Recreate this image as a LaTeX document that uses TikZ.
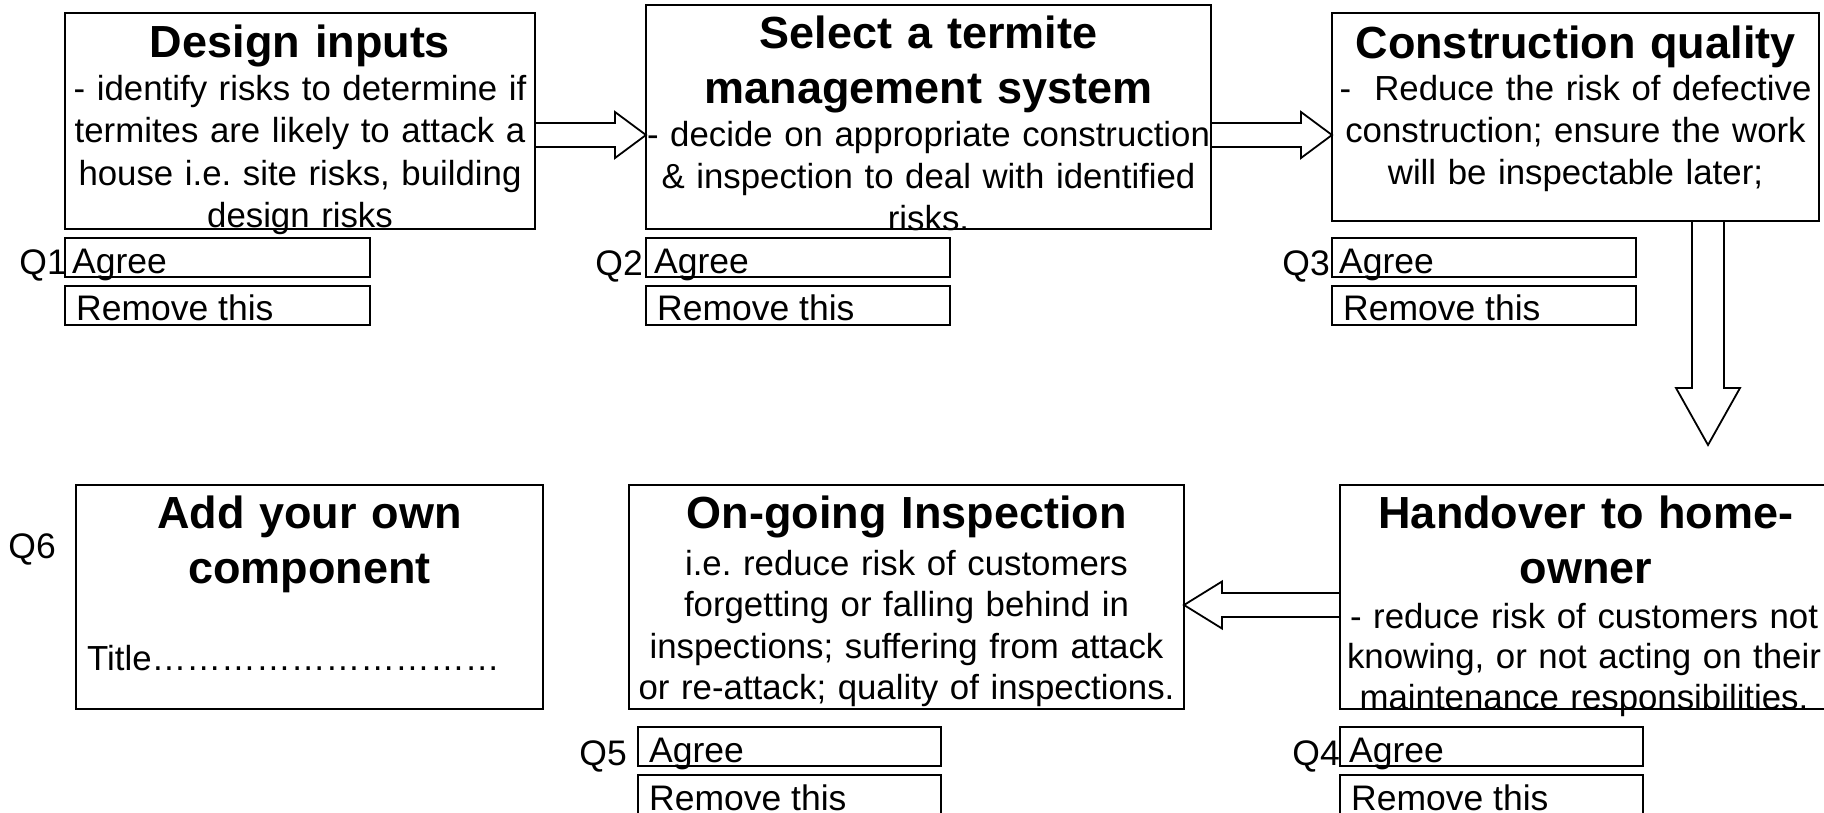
\documentclass[tikz,border=0pt]{standalone}
\usepackage{fontspec}
\setmainfont{Liberation Sans}
\usetikzlibrary{calc}
\begin{document}
\frenchspacing
\begin{tikzpicture}[x=1pt,y=-1pt,
  box/.style={draw=black, line width=2pt, inner sep=0pt, outer sep=0pt, rectangle},
  ttl/.style={font=\bfseries\fontsize{45}{55}\selectfont, text width=900pt, align=center, inner sep=0pt, anchor=base},
  bdy/.style={font=\fontsize{34.8}{42}\selectfont, text width=900pt, align=center, inner sep=0pt, anchor=base},
  lbl/.style={font=\fontsize{35.5}{41.5}\selectfont, inner sep=0pt, anchor=base west},
  qlbl/.style={font=\fontsize{35.5}{41.5}\selectfont, inner sep=0pt, anchor=base east},
  barrow/.style={draw=black, line width=1.8pt, line join=miter}]
\useasboundingbox (0,0) rectangle (1824,812);
\clip (0,0) rectangle (1824,812);

% main boxes
\node[box, minimum width=470pt, minimum height=216pt] (b1) at (300,121) {};
\node[box, minimum width=565pt, minimum height=224pt] (b2) at (928.5,117) {};
\node[box, minimum width=487pt, minimum height=208pt] (b3) at (1575.5,117) {};
\node[box, minimum width=467pt, minimum height=224pt] (b6) at (309.5,597) {};
\node[box, minimum width=555pt, minimum height=224pt] (b5) at (906.5,597) {};
\node[box, minimum width=492pt, minimum height=224pt] (b4) at (1586,597) {};

% answer boxes
\node[box, minimum width=305pt, minimum height=39pt] (q1a) at (217.5,257.5) {};
\node[box, minimum width=305pt, minimum height=39pt] (q1r) at (217.5,305.5) {};
\node[box, minimum width=304pt, minimum height=39pt] (q2a) at (798,257.5) {};
\node[box, minimum width=304pt, minimum height=39pt] (q2r) at (798,305.5) {};
\node[box, minimum width=304pt, minimum height=39pt] (q3a) at (1484,257.5) {};
\node[box, minimum width=304pt, minimum height=39pt] (q3r) at (1484,305.5) {};
\node[box, minimum width=303pt, minimum height=39pt] (q5a) at (789.5,746.5) {};
\node[box, minimum width=303pt, minimum height=39pt] (q5r) at (789.5,794.5) {};
\node[box, minimum width=303pt, minimum height=39pt] (q4a) at (1491.5,746.5) {};
\node[box, minimum width=303pt, minimum height=39pt] (q4r) at (1491.5,794.5) {};

% titles
\node[ttl] (t1) at (300,57) {Design inputs};
\node[ttl] (t2) at (928.5,48) {Select a termite\\management system};
\node[ttl] (t3) at (1575.5,58) {Construction quality};
\node[ttl] (t6) at (309.5,528.5) {Add your own\\component};
\node[ttl] (t5) at (906.5,528) {On-going Inspection};
\node[ttl] (t4) at (1586,528.5) {Handover to home-\\owner};

% bodies
\node[bdy, font=\fontsize{34.8}{42.5}\selectfont] (d1) at (300,100) {- identify risks to determine if\\termites are likely to attack a\\house i.e. site risks, building\\design risks};
\node[bdy] (d2) at (928.5,146) {- decide on appropriate construction\\\& inspection to deal with identified\\risks.};
\node[bdy] (d3) at (1575.5,100) {- \ Reduce the risk of defective\\construction; ensure the work\\will be inspectable later;};
\node[bdy, font=\fontsize{34.8}{41.5}\selectfont] (d5) at (906.5,575) {i.e. reduce risk of customers\\forgetting or falling behind in\\inspections; suffering from attack\\or re-attack; quality of inspections.};
\node[bdy, font=\fontsize{34.8}{40.5}\selectfont] (d4) at (1584,628) {- reduce risk of customers not\\knowing, or not acting on their\\maintenance responsibilities.};
\node[lbl, font=\fontsize{34.8}{42}\selectfont] (d6) at (87,670) {Title\foreach \k in {1,...,10}{…}};

% answer texts
\node[lbl] (q1at) at (72,273) {Agree};
\node[lbl] (q1rt) at (76,320.5) {Remove this};
\node[lbl] (q2at) at (654,273) {Agree};
\node[lbl] (q2rt) at (657,320.5) {Remove this};
\node[lbl] (q3at) at (1339,273) {Agree};
\node[lbl] (q3rt) at (1343,320.5) {Remove this};
\node[lbl] (q5at) at (649,762) {Agree};
\node[lbl] (q5rt) at (649,810) {Remove this};
\node[lbl] (q4at) at (1349,762) {Agree};
\node[lbl] (q4rt) at (1351,810) {Remove this};

% question labels
\node[qlbl] (l1) at (67,274) {Q1};
\node[qlbl] (l2) at (643,275) {Q2};
\node[qlbl] (l3) at (1330,275) {Q3};
\node[qlbl] (l6) at (56,558) {Q6};
\node[qlbl] (l5) at (627,765) {Q5};
\node[qlbl] (l4) at (1340,765) {Q4};

% block arrows
\coordinate (ya) at (0,135);
\coordinate (yl) at (0,605);
\coordinate (xd) at (1708,0);
\coordinate (tip1) at (b2.west |- ya);
\coordinate (tip2) at (b3.west |- ya);
\coordinate (tipd) at (1708,445);
\coordinate (tipl) at (b5.east |- yl);

\draw[barrow] ($(b1.east |- ya)+(0,-12)$) -- ($(tip1)+(-31,-12)$) -- ($(tip1)+(-31,-23)$) -- (tip1)
  -- ($(tip1)+(-31,23)$) -- ($(tip1)+(-31,12)$) -- ($(b1.east |- ya)+(0,12)$);
\draw[barrow] ($(b2.east |- ya)+(0,-12)$) -- ($(tip2)+(-31,-12)$) -- ($(tip2)+(-31,-23)$) -- (tip2)
  -- ($(tip2)+(-31,23)$) -- ($(tip2)+(-31,12)$) -- ($(b2.east |- ya)+(0,12)$);
\draw[barrow] ($(b3.south -| xd)+(-16,0)$) -- ($(tipd)+(-16,-57)$) -- ($(tipd)+(-32,-57)$) -- (tipd)
  -- ($(tipd)+(32,-57)$) -- ($(tipd)+(16,-57)$) -- ($(b3.south -| xd)+(16,0)$);
\draw[barrow] ($(b4.west |- yl)+(0,-12)$) -- ($(tipl)+(38,-12)$) -- ($(tipl)+(38,-23.5)$) -- (tipl)
  -- ($(tipl)+(38,23.5)$) -- ($(tipl)+(38,12)$) -- ($(b4.west |- yl)+(0,12)$);
\end{tikzpicture}
\end{document}
